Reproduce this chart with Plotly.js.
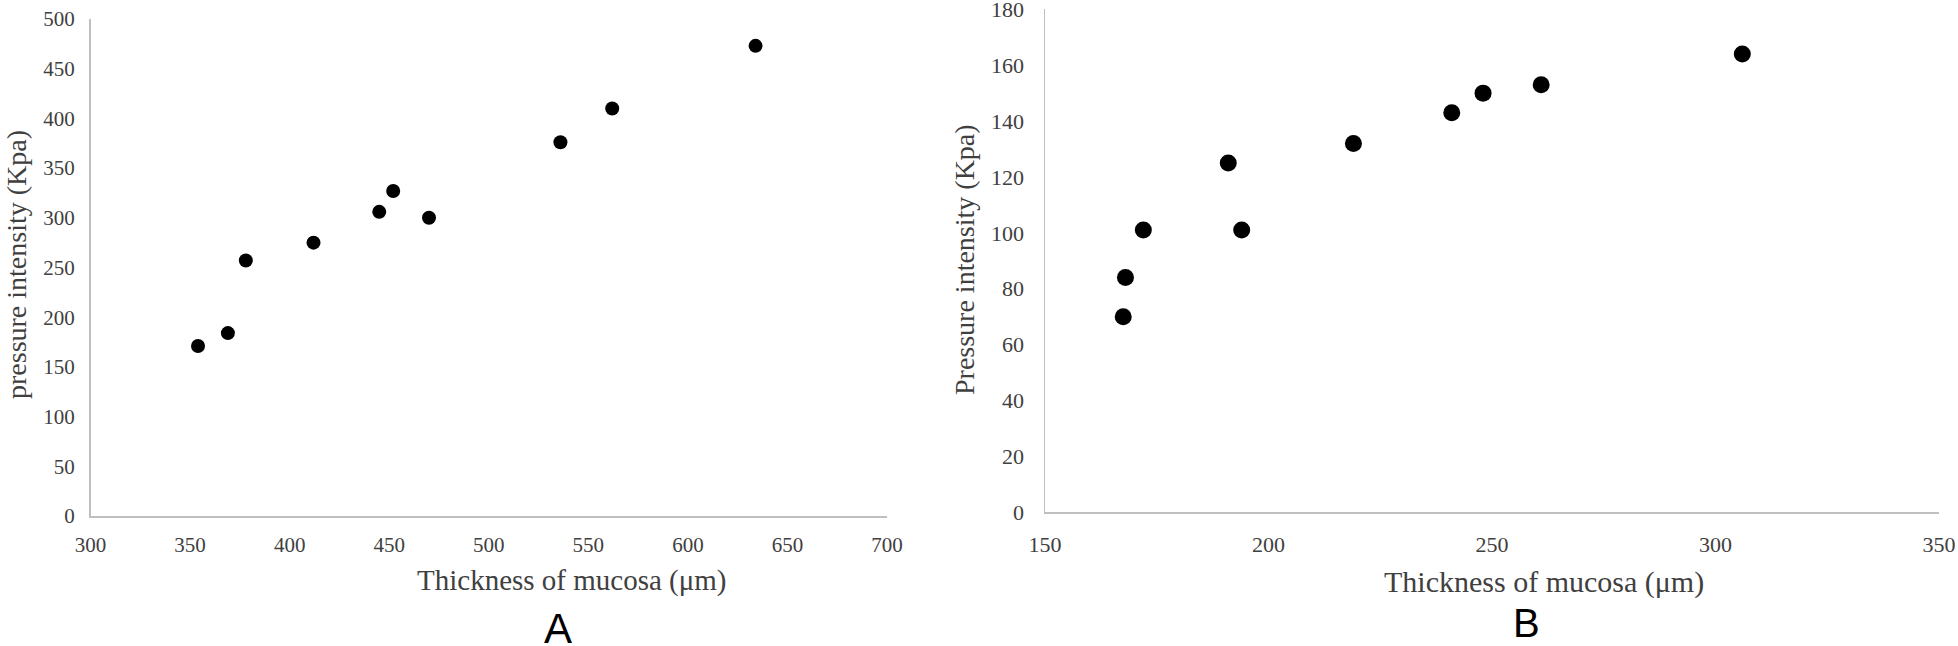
<!DOCTYPE html>
<html>
<head>
<meta charset="utf-8">
<script src="https://cdn.plot.ly/plotly-3.0.1.min.js"></script>
<style>
  html, body { margin: 0; padding: 0; background: #fff; }
  #chart { width: 1958px; height: 646px; }
</style>
</head>
<body>
<div id="chart"></div>
<script>
//Panel A data
const thicknessA = [354, 369, 378, 412, 445, 452, 470, 536, 562, 634];
const pressureA = [171, 184, 257, 275, 306, 327, 300, 376, 410, 473];

//Panel B data
const thicknessB = [167.5, 168, 172, 191, 194, 219, 241, 248, 261, 306];
const pressureB = [70, 84, 101, 125, 101, 132, 143, 150, 153, 164];

const W = 1958, H = 646;
const serif = "Liberation Serif, Times New Roman, serif";
const sans = "Liberation Sans, Arial, sans-serif";
const textColor = "#404040";
const lineColor = "#bfbfbf";

// pixel helpers for paper coords
const px = x => x / W;
const py = y => 1 - y / H;

function label(text, x, y, size, opts) {
  return Object.assign({
    text: text, xref: "paper", yref: "paper",
    x: px(x), y: py(y), xanchor: "center", yanchor: "middle",
    showarrow: false,
    font: { family: serif, size: size, color: textColor }
  }, opts || {});
}

function makeChart() {
  const traces = [
    {
      type: "scatter", mode: "markers",
      x: thicknessA, y: pressureA,
      marker: { color: "#000", size: 14 },
      xaxis: "x", yaxis: "y", showlegend: false
    },
    {
      type: "scatter", mode: "markers",
      x: thicknessB, y: pressureB,
      marker: { color: "#000", size: 17 },
      xaxis: "x2", yaxis: "y2", showlegend: false
    }
  ];

  const axisBase = {
    showline: true, linecolor: lineColor, linewidth: 1.5,
    showgrid: false, zeroline: false, ticks: "", fixedrange: true,
    ticklabeloverflow: "allow"
  };

  const layout = {
    width: W, height: H,
    margin: { l: 0, r: 0, t: 0, b: 0 },
    paper_bgcolor: "#fff", plot_bgcolor: "#fff",
    showlegend: false,
    xaxis: {
      ...axisBase, domain: [px(90.5), px(887)], anchor: "y",
      range: [300, 700], dtick: 50, tick0: 300,
      tickfont: { family: serif, size: 21, color: textColor },
      ticklabelstandoff: 9
    },
    yaxis: {
      ...axisBase, domain: [py(516), py(19)], anchor: "x",
      range: [0, 500], dtick: 50,
      tickfont: { family: serif, size: 21, color: textColor },
      ticklabelstandoff: 10
    },
    xaxis2: {
      ...axisBase, domain: [px(1045), px(1939)], anchor: "y2",
      range: [150, 350], dtick: 50, tick0: 150,
      tickfont: { family: serif, size: 22, color: textColor },
      ticklabelstandoff: 12
    },
    yaxis2: {
      ...axisBase, domain: [py(512.3), py(9.3)], anchor: "x2",
      range: [0, 180], dtick: 20,
      tickfont: { family: serif, size: 22, color: textColor },
      ticklabelstandoff: 15
    },
    annotations: [
      label("Thickness of mucosa (μm)", 572, 580, 29),
      label("pressure intensity (Kpa)", 16, 265, 28, { textangle: -90 }),
      label("Thickness of mucosa (μm)", 1544, 582, 30),
      label("Pressure intensity (Kpa)", 964, 260, 28, { textangle: -90 }),
      label("A", 558, 628, 42, { font: { family: sans, size: 42, color: "#000" } }),
      label("B", 1526, 623, 40, { font: { family: sans, size: 40, color: "#000" } })
    ]
  };

  Plotly.newPlot("chart", traces, layout, { displayModeBar: false, staticPlot: true });
}

makeChart();
</script>
</body>
</html>
